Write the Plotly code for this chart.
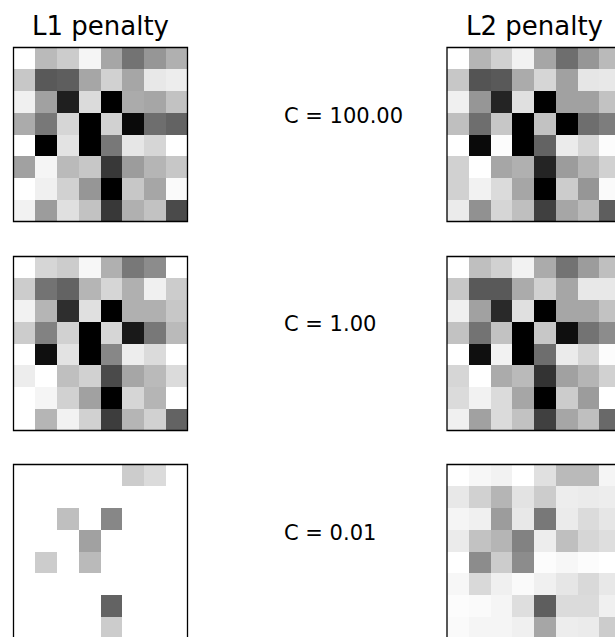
import plotly.graph_objects as go

W, H = 615, 637

col_titles = ["L1 penalty", "L2 penalty"]
c_labels = ["C = 100.00", "C = 1.00", "C = 0.01"]

l1_c100 = [
    [0.00, 0.27, 0.20, 0.04, 0.35, 0.55, 0.41, 0.31],
    [0.22, 0.65, 0.63, 0.35, 0.18, 0.35, 0.09, 0.07],
    [0.06, 0.37, 0.88, 0.14, 1.00, 0.33, 0.35, 0.24],
    [0.33, 0.53, 0.16, 1.00, 0.18, 0.96, 0.57, 0.61],
    [0.00, 1.00, 0.11, 1.00, 0.53, 0.10, 0.16, 0.00],
    [0.37, 0.04, 0.27, 0.22, 0.78, 0.39, 0.29, 0.22],
    [0.00, 0.06, 0.18, 0.41, 1.00, 0.22, 0.35, 0.02],
    [0.05, 0.39, 0.12, 0.24, 0.78, 0.31, 0.24, 0.71],
]
l2_c100 = [
    [0.00, 0.29, 0.18, 0.05, 0.35, 0.57, 0.41, 0.27],
    [0.22, 0.67, 0.65, 0.33, 0.16, 0.37, 0.10, 0.09],
    [0.06, 0.41, 0.86, 0.12, 1.00, 0.37, 0.37, 0.24],
    [0.25, 0.57, 0.22, 1.00, 0.24, 1.00, 0.57, 0.51],
    [0.00, 0.96, 0.01, 1.00, 0.61, 0.08, 0.16, 0.01],
    [0.18, 0.00, 0.35, 0.31, 0.86, 0.39, 0.29, 0.18],
    [0.18, 0.05, 0.14, 0.35, 1.00, 0.20, 0.41, 0.02],
    [0.08, 0.43, 0.16, 0.25, 0.75, 0.35, 0.27, 0.63],
]
l1_c1 = [
    [0.00, 0.16, 0.20, 0.03, 0.31, 0.53, 0.45, 0.00],
    [0.20, 0.55, 0.61, 0.29, 0.16, 0.31, 0.06, 0.20],
    [0.05, 0.29, 0.82, 0.12, 1.00, 0.31, 0.31, 0.22],
    [0.20, 0.49, 0.18, 1.00, 0.16, 0.90, 0.53, 0.27],
    [0.00, 0.94, 0.11, 1.00, 0.47, 0.07, 0.14, 0.00],
    [0.07, 0.00, 0.25, 0.18, 0.71, 0.35, 0.27, 0.14],
    [0.00, 0.04, 0.18, 0.37, 1.00, 0.16, 0.29, 0.00],
    [0.00, 0.29, 0.05, 0.18, 0.76, 0.29, 0.18, 0.61],
]
l2_c1 = [
    [0.00, 0.25, 0.18, 0.05, 0.33, 0.55, 0.39, 0.25],
    [0.22, 0.65, 0.65, 0.33, 0.18, 0.35, 0.09, 0.09],
    [0.06, 0.37, 0.84, 0.12, 1.00, 0.35, 0.35, 0.24],
    [0.24, 0.55, 0.24, 1.00, 0.22, 0.94, 0.55, 0.45],
    [0.00, 0.94, 0.05, 1.00, 0.57, 0.08, 0.16, 0.01],
    [0.16, 0.00, 0.33, 0.27, 0.80, 0.37, 0.29, 0.18],
    [0.14, 0.05, 0.14, 0.35, 1.00, 0.20, 0.39, 0.00],
    [0.06, 0.37, 0.14, 0.24, 0.75, 0.35, 0.25, 0.59],
]
l1_c001 = [
    [0.00, 0.00, 0.00, 0.00, 0.00, 0.20, 0.14, 0.00],
    [0.00, 0.00, 0.00, 0.00, 0.00, 0.00, 0.00, 0.00],
    [0.00, 0.00, 0.25, 0.00, 0.47, 0.00, 0.00, 0.00],
    [0.00, 0.00, 0.00, 0.37, 0.00, 0.00, 0.00, 0.00],
    [0.00, 0.20, 0.00, 0.27, 0.00, 0.00, 0.00, 0.00],
    [0.00, 0.00, 0.00, 0.00, 0.00, 0.00, 0.00, 0.00],
    [0.00, 0.00, 0.00, 0.00, 0.61, 0.00, 0.00, 0.00],
    [0.00, 0.00, 0.00, 0.00, 0.20, 0.00, 0.00, 0.00],
]
l2_c001 = [
    [0.00, 0.03, 0.05, 0.00, 0.12, 0.27, 0.27, 0.04],
    [0.09, 0.18, 0.29, 0.11, 0.20, 0.07, 0.08, 0.07],
    [0.04, 0.06, 0.39, 0.09, 0.53, 0.08, 0.14, 0.10],
    [0.08, 0.24, 0.29, 0.49, 0.07, 0.25, 0.16, 0.13],
    [0.00, 0.45, 0.20, 0.45, 0.01, 0.03, 0.01, 0.00],
    [0.03, 0.15, 0.06, 0.02, 0.06, 0.10, 0.15, 0.09],
    [0.01, 0.02, 0.04, 0.13, 0.63, 0.14, 0.14, 0.06],
    [0.02, 0.04, 0.04, 0.06, 0.35, 0.07, 0.08, 0.20],
]

grids = [[l1_c100, l2_c100], [l1_c1, l2_c1], [l1_c001, l2_c001]]

# pixel geometry
cell = 21.75
side = 8 * cell
col_left = [13.5, 447.0]
row_top = [47.5, 256.5, 464.5]
label_left = 284.0
label_mid_offset = 68.0  # label vertical centre below image top

fig = go.Figure()
shapes = []
annotations = []
n = 0
for r in range(3):
    for c in range(2):
        n += 1
        xa = "x" if n == 1 else f"x{n}"
        ya = "y" if n == 1 else f"y{n}"
        fig.add_trace(go.Heatmap(
            z=grids[r][c], xaxis=xa, yaxis=ya,
            colorscale=[[0, "white"], [1, "black"]],
            zmin=0, zmax=1, showscale=False, hoverinfo="skip",
        ))
        x0p, y0p = col_left[c], row_top[r]
        x1p, y1p = x0p + side, y0p + side
        vis_x1 = min(x1p, W)
        vis_y1 = min(y1p, H)
        xr = [-0.5, -0.5 + (vis_x1 - x0p) / cell]
        yr = [-0.5 + (vis_y1 - y0p) / cell, -0.5]
        axcommon = dict(showticklabels=False, showgrid=False, zeroline=False,
                        ticks="", showline=False, fixedrange=True)
        fig.layout[("xaxis" if n == 1 else f"xaxis{n}")] = dict(
            domain=[x0p / W, vis_x1 / W], range=xr, anchor=ya, **axcommon)
        fig.layout[("yaxis" if n == 1 else f"yaxis{n}")] = dict(
            domain=[1 - vis_y1 / H, 1 - y0p / H], range=yr, anchor=xa, **axcommon)
        shapes.append(dict(type="rect", xref="paper", yref="paper",
                           x0=x0p / W, x1=x1p / W, y0=1 - y1p / H, y1=1 - y0p / H,
                           line=dict(color="black", width=1.3), fillcolor="rgba(0,0,0,0)"))
        if r == 0:
            annotations.append(dict(text=col_titles[c], xref="paper", yref="paper",
                                    x=(x0p + side / 2) / W, y=1 - (y0p - 5) / H,
                                    xanchor="center", yanchor="bottom", showarrow=False,
                                    font=dict(family="DejaVu Sans", size=26, color="black")))
        if c == 1:
            annotations.append(dict(text=c_labels[r], xref="paper", yref="paper",
                                    x=label_left / W, y=1 - (y0p + label_mid_offset) / H,
                                    xanchor="left", yanchor="middle",
                                    showarrow=False, xshift=-2,
                                    font=dict(family="DejaVu Sans", size=21, color="black")))

fig.update_layout(width=W, height=H, margin=dict(l=0, r=0, t=0, b=0),
                  paper_bgcolor="white", plot_bgcolor="white",
                  shapes=shapes, annotations=annotations, showlegend=False)
fig.write_html("out.html", config={"displayModeBar": False},
               post_script="document.body.style.margin='0';")
